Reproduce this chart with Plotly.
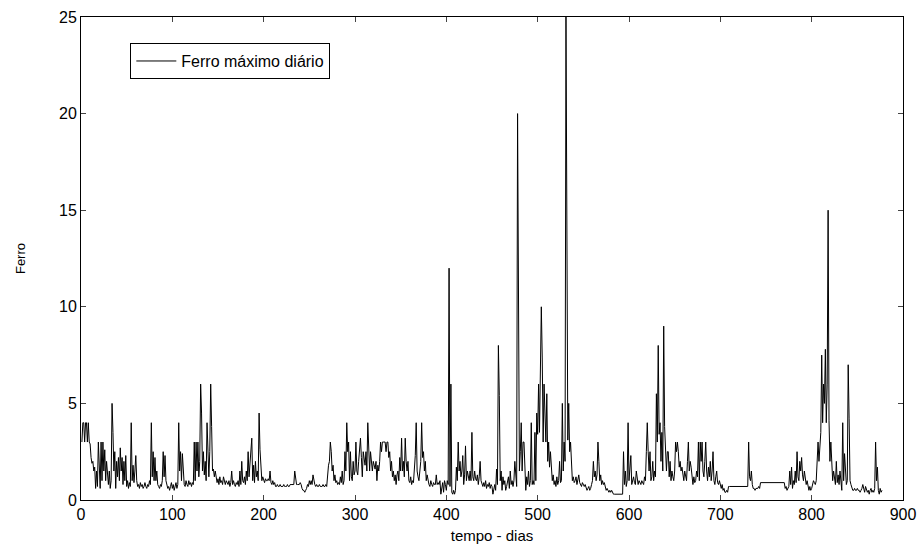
import plotly.graph_objects as go

# Daily maximum iron values, days 1..877
ferro = [
    3.0, 4.0, 4.0, 3.0, 4.0, 4.0, 3.0, 4.0, 3.0, 2.9,
    2.2, 1.9, 2.0, 1.5, 1.7, 0.6, 1.5, 0.7, 3.0, 1.2,
    0.6, 3.0, 1.0, 3.0, 1.5, 2.6, 1.0, 2.0, 1.2, 0.8,
    1.5, 0.6, 1.0, 5.0, 3.5, 1.5, 2.5, 0.6, 2.0, 1.2,
    2.2, 1.0, 2.7, 1.5, 2.2, 0.8, 2.0, 1.0, 2.3, 0.7,
    1.0, 0.6, 0.9, 0.7, 4.0, 1.0, 1.8, 0.9, 1.5, 2.3,
    1.0, 0.7, 0.8, 0.6, 0.9, 0.7, 0.8, 0.6, 0.7, 0.9,
    0.7, 0.6, 0.8, 0.7, 1.0, 0.8, 4.0, 1.2, 2.5, 1.0,
    2.2, 1.0, 1.5, 0.8, 0.7, 0.6, 0.8, 0.7, 1.0, 2.5,
    1.2, 2.3, 1.0, 0.8, 0.6, 0.7, 0.5, 0.7, 0.9, 0.6,
    0.8, 0.5, 0.7, 0.9, 0.6, 0.8, 4.0, 1.5, 2.5, 1.0,
    2.4, 1.2, 0.8, 0.7, 1.0, 0.8, 0.7, 1.0, 0.8, 0.9,
    0.7, 0.9, 0.8, 3.0, 1.0, 3.0, 1.5, 3.0, 1.2, 2.0,
    6.0, 4.5, 1.5, 2.5, 1.3, 2.0, 1.0, 4.0, 1.8, 1.2,
    2.5, 6.0, 3.8, 1.5, 1.6, 1.2, 1.5, 1.0, 0.9, 1.1,
    0.8, 1.2, 0.9, 1.0, 0.8, 1.2, 0.9, 0.8, 1.0, 0.9,
    0.8, 1.0, 0.7, 0.9, 1.5, 0.8, 1.0, 0.8, 0.7, 0.9,
    0.8, 1.0, 0.7, 1.5, 0.8, 2.0, 1.0, 0.9, 1.2, 0.8,
    1.5, 1.0, 2.5, 1.2, 1.9, 2.2, 3.2, 1.0, 1.8, 0.9,
    2.0, 1.2, 1.5, 1.0, 4.5, 2.6, 1.3, 1.0, 1.2, 1.0,
    0.9, 1.1, 1.0, 1.0, 1.1, 1.0, 1.5, 0.9, 0.8, 1.0,
    0.8, 0.9, 0.7, 0.7, 0.8, 0.7, 0.7, 0.8, 0.7, 0.7,
    0.7, 0.8, 0.7, 0.7, 0.7, 0.8, 0.7, 0.7, 0.8, 0.8,
    0.8, 0.8, 0.8, 1.5, 1.0, 0.8, 0.8, 0.8, 0.8, 0.9,
    0.8, 0.6, 0.5, 0.5, 0.4, 0.5, 0.6, 0.8, 0.7, 1.0,
    0.8, 1.0, 0.8, 1.3, 0.9, 0.8, 0.7, 0.8, 0.7, 0.7,
    0.8, 0.7, 0.7, 0.7, 0.8, 0.7, 0.7, 0.8, 0.7, 1.5,
    1.8, 2.0, 3.0, 2.5, 1.5, 1.8, 1.0, 1.3, 0.9, 1.0,
    0.8, 0.9, 0.8, 1.2, 0.9, 1.5, 0.8, 1.0, 2.5, 1.5,
    4.0, 2.5, 3.0, 1.0, 2.5, 1.2, 1.0, 2.0, 1.3, 1.5,
    3.0, 1.5, 1.3, 2.0, 3.0, 3.2, 2.2, 1.2, 2.5, 2.2,
    1.8, 2.5, 1.5, 4.0, 2.0, 1.5, 2.5, 1.8, 1.5, 2.0,
    1.7, 1.6, 2.0, 1.0, 1.8, 1.5, 2.0, 3.0, 2.5, 3.0,
    3.0, 3.0, 3.0, 2.5, 3.0, 3.0, 2.2, 2.5, 1.5, 2.0,
    1.2, 1.5, 1.0, 1.3, 0.8, 1.3, 1.5, 1.0, 2.2, 1.5,
    3.2, 1.5, 2.0, 1.2, 3.2, 2.0, 1.5, 2.0, 1.0, 0.9,
    1.2, 0.8, 1.0, 0.9, 1.5, 2.3, 4.0, 1.5, 1.2, 1.0,
    1.5, 2.0, 4.0, 2.2, 2.5, 1.5, 2.0, 1.0, 1.3, 1.0,
    0.8, 0.7, 1.0, 0.8, 0.7, 0.9, 0.8, 0.8, 1.3, 0.8,
    0.9, 0.8, 1.0, 0.3, 0.8, 0.9, 0.4, 1.0, 0.8, 0.5,
    1.0, 0.8, 12.0, 0.7, 6.0, 0.4, 0.3, 0.5, 0.3, 0.5,
    1.7, 1.0, 3.0, 1.5, 2.0, 1.2, 1.5, 2.3, 0.8, 1.3,
    2.8, 1.0, 1.5, 1.2, 1.0, 1.5, 1.0, 3.5, 1.2, 1.0,
    1.5, 1.1, 1.0, 1.3, 0.8, 1.2, 2.0, 1.0, 0.8, 0.7,
    0.9, 0.7, 1.0, 0.6, 0.8, 0.7, 0.9, 0.6, 0.8, 0.7,
    0.3, 0.6, 0.8, 0.5, 1.6, 0.8, 8.0, 5.4, 1.0, 1.5,
    0.5, 1.2, 0.8, 1.0, 0.5, 0.7, 1.0, 1.2, 0.6, 1.5,
    0.8, 1.0, 0.7, 1.0, 2.0, 1.0, 0.7, 20.0, 13.0, 1.5,
    2.5, 4.0, 1.5, 3.0, 3.0, 1.0, 0.5, 1.2, 0.8, 1.5,
    0.7, 1.0, 4.0, 0.8, 1.0, 0.8, 3.5, 1.0, 4.5, 3.4,
    6.0, 3.5, 6.0, 10.0, 7.4, 3.0, 6.0, 4.0, 3.0, 5.5,
    2.0, 3.0, 1.7, 2.5, 1.5, 1.0, 1.3, 0.8, 1.0, 0.7,
    1.2, 0.8, 1.0, 2.0, 0.9, 1.0, 5.0, 1.5, 3.0, 2.0,
    25.0, 13.7, 3.1, 5.0, 2.5, 3.0, 1.5, 1.0, 1.2, 0.9,
    1.0, 1.2, 0.8, 1.0, 1.3, 0.9, 0.8, 0.7, 0.9, 0.8,
    0.7, 0.8, 0.6, 0.5, 0.6, 0.7, 0.5, 0.6, 0.8, 1.0,
    2.0, 1.2, 1.5, 1.0, 1.3, 3.0, 2.0, 1.0, 1.3, 0.8,
    1.0, 0.8, 0.9, 0.7, 0.5, 0.6, 0.5, 0.4, 0.5, 0.4,
    0.5, 0.4, 0.3, 0.3, 0.3, 0.3, 0.3, 0.3, 0.3, 0.3,
    0.3, 0.3, 0.3, 2.5, 0.8, 1.5, 0.7, 1.0, 4.0, 1.0,
    1.5, 2.3, 0.8, 1.0, 1.2, 0.9, 0.8, 1.5, 1.2, 0.8,
    1.0, 0.9, 0.8, 1.0, 0.9, 0.8, 1.2, 1.0, 2.5, 4.0,
    2.5, 1.5, 2.5, 1.0, 1.2, 2.0, 1.0, 1.5, 1.2, 5.5,
    3.0, 8.0, 3.4, 4.0, 2.0, 3.5, 1.5, 9.0, 3.8, 2.0,
    1.5, 2.5, 2.5, 1.2, 2.0, 1.0, 1.5, 1.2, 1.0, 1.5,
    3.0, 2.5, 3.0, 2.5, 1.7, 2.0, 1.5, 1.7, 1.2, 1.0,
    1.5, 1.2, 1.0, 2.0, 3.0, 1.5, 2.0, 1.7, 1.0, 0.8,
    1.2, 0.9, 1.0, 1.5, 1.2, 3.0, 1.0, 3.0, 2.0, 3.0,
    1.5, 1.2, 2.0, 3.0, 1.5, 1.0, 1.7, 1.2, 2.0, 1.0,
    1.5, 2.5, 1.0, 0.8, 1.2, 1.5, 0.9, 0.8, 1.0, 0.7,
    0.6, 0.8, 0.5, 0.6, 0.4, 0.4, 0.5, 0.4, 0.7, 0.7,
    0.7, 0.7, 0.7, 0.7, 0.7, 0.7, 0.7, 0.7, 0.7, 0.7,
    0.7, 0.7, 0.7, 0.7, 0.7, 0.7, 0.7, 0.7, 0.7, 0.7,
    3.0, 1.2, 1.0, 1.5, 0.8, 0.6, 0.6, 0.5, 0.6, 0.6,
    0.6, 0.7, 0.6, 0.9, 0.9, 0.9, 0.9, 0.9, 0.9, 0.9,
    0.9, 0.9, 0.9, 0.9, 0.9, 0.9, 0.9, 0.9, 0.9, 0.9,
    0.9, 0.9, 0.9, 0.9, 0.9, 0.9, 0.9, 0.9, 0.9, 0.9,
    0.6, 0.7, 0.5, 0.6, 0.7, 1.5, 0.8, 1.7, 0.6, 1.0,
    0.8, 1.5, 0.9, 2.5, 1.2, 1.0, 2.0, 1.5, 2.2, 1.3,
    1.0, 1.5, 1.2, 0.8, 1.0, 0.6, 0.5, 0.7, 0.5, 0.6,
    0.8, 1.0, 0.9, 0.8, 1.0, 2.5, 3.0, 2.0, 3.0, 3.5,
    7.5, 4.0, 6.0, 5.0, 7.8, 4.0, 6.0, 15.0, 4.1, 2.0,
    3.0, 1.5, 1.0, 1.5, 1.0, 0.8, 2.0, 0.9, 1.3, 0.8,
    1.5, 0.9, 0.5, 4.0, 1.0, 2.4, 1.2, 0.8, 1.0, 7.0,
    4.2, 1.0, 0.8, 0.6, 0.5, 0.5, 0.6, 0.5, 0.5, 0.6,
    0.5, 0.5, 0.4, 0.5, 0.6, 0.8, 0.5, 0.4, 0.7, 0.5,
    0.4, 0.5, 0.3, 0.5, 0.6, 0.4, 0.5, 0.4, 0.6, 3.0,
    1.0, 1.7, 0.5, 0.3, 0.6, 0.4, 0.5,
]
dias = list(range(1, len(ferro) + 1))

x_ticks = [0, 100, 200, 300, 400, 500, 600, 700, 800, 900]
y_ticks = [0, 5, 10, 15, 20, 25]

fig = go.Figure()
fig.add_trace(go.Scatter(
    x=dias, y=ferro, mode="lines", name="Ferro máximo diário",
    line=dict(color="black", width=1),
))

font_family = "Liberation Sans, Arial, sans-serif"
fig.update_layout(
    width=924, height=551,
    margin=dict(l=81, r=21, t=17, b=51),
    paper_bgcolor="white", plot_bgcolor="white",
    font=dict(family=font_family, size=15, color="black"),
    showlegend=True,
    legend=dict(
        x=0.06, y=0.946, xanchor="left", yanchor="top",
        bordercolor="black", borderwidth=1, bgcolor="white",
        font=dict(size=16), itemwidth=40,
    ),
    xaxis=dict(
        range=[0, 900], tickvals=x_ticks, ticks="inside", ticklen=5,
        showline=True, linecolor="black", linewidth=1, mirror="ticks",
        showgrid=False, zeroline=False, automargin=False,
        tickfont=dict(size=16),
        title=dict(text="tempo - dias", standoff=8, font=dict(size=15)),
    ),
    yaxis=dict(
        range=[0, 25], tickvals=y_ticks, ticks="inside", ticklen=5,
        showline=True, linecolor="black", linewidth=1, mirror="ticks",
        showgrid=False, zeroline=False, automargin=False,
        tickfont=dict(size=16),
        title=dict(text="Ferro", standoff=30, font=dict(size=13)),
    ),
)

fig.write_html(
    "out.html",
    config={"displayModeBar": False},
    post_script="document.body.style.margin='0';document.body.style.overflow='hidden';",
)
